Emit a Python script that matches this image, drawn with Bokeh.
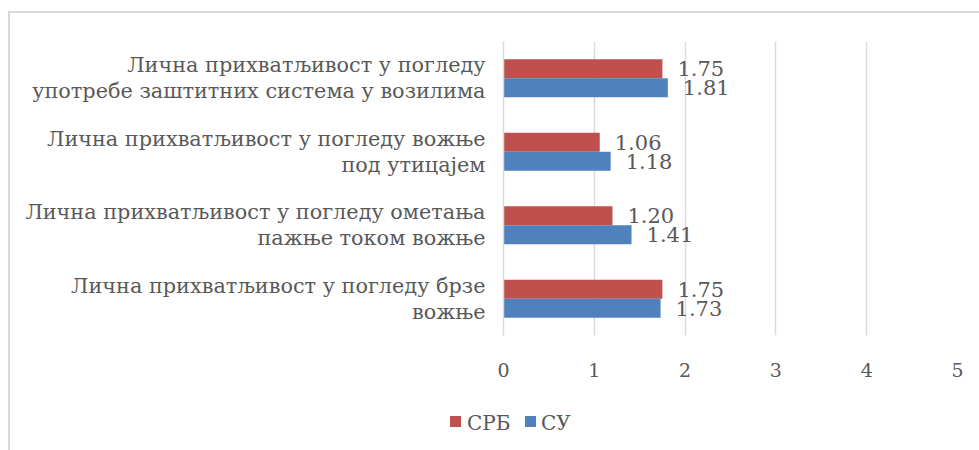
from bokeh.plotting import figure
from bokeh.layouts import column
from bokeh.models import ColumnDataSource, FactorRange, Range1d, Div
from bokeh.transform import dodge
from bokeh.core.properties import value
from bokeh.embed import file_html
from bokeh.resources import INLINE

categories = [
    "Лична прихватљивост у погледу\nупотребе заштитних система у возилима",
    "Лична прихватљивост у погледу вожње\nпод утицајем",
    "Лична прихватљивост у погледу ометања\nпажње током вожње",
    "Лична прихватљивост у погледу брзе\nвожње",
]
srb = [1.75, 1.06, 1.20, 1.75]
su = [1.81, 1.18, 1.41, 1.73]
series_names = ["СРБ", "СУ"]
x_ticks = [0, 1, 2, 3, 4, 5]

RED = "#C0504D"
BLUE = "#4F81BD"
TXT = "#595959"
GRID = "#d9d9d9"
FONT = "DejaVu Serif"

src = ColumnDataSource(dict(
    cat=categories, srb=srb, su=su,
    srb_lbl=["%.2f" % v for v in srb],
    su_lbl=["%.2f" % v for v in su],
))

W = 967
p = figure(width=W, height=367, output_backend="svg", toolbar_location=None,
           y_range=FactorRange(*list(reversed(categories)), range_padding=0),
           x_range=Range1d(0, 5),
           min_border_left=493, min_border_right=20, min_border_top=28, min_border_bottom=45)
p.outline_line_color = None

bw = 0.26
r1 = p.hbar(y=dodge("cat", bw / 2, range=p.y_range), right="srb", left=0, height=bw,
            source=src, fill_color=RED, line_color=None)
r2 = p.hbar(y=dodge("cat", -bw / 2, range=p.y_range), right="su", left=0, height=bw,
            source=src, fill_color=BLUE, line_color=None)

p.text(x="srb", y=dodge("cat", bw / 2, range=p.y_range), text="srb_lbl", source=src,
       x_offset=15, text_baseline="middle", text_align="left",
       text_font=value(FONT), text_font_size="21px", text_color=TXT)
p.text(x="su", y=dodge("cat", -bw / 2, range=p.y_range), text="su_lbl", source=src,
       x_offset=15, text_baseline="middle", text_align="left",
       text_font=value(FONT), text_font_size="21px", text_color=TXT)

p.xaxis.ticker = x_ticks
p.xaxis.axis_line_color = None
p.xaxis.major_tick_line_color = None
p.xaxis.minor_tick_line_color = None
p.xaxis.major_tick_out = 0
p.xaxis.major_label_standoff = 27
p.xaxis.major_label_text_font = FONT
p.xaxis.major_label_text_font_size = "19px"
p.xaxis.major_label_text_color = TXT

p.yaxis.axis_line_color = GRID
p.yaxis.axis_line_width = 1.5
p.yaxis.major_tick_line_color = None
p.yaxis.minor_tick_line_color = None
p.yaxis.major_tick_out = 0
p.yaxis.major_label_standoff = 18
p.yaxis.major_label_text_font = FONT
p.yaxis.major_label_text_font_size = "20.8px"
p.yaxis.major_label_text_color = TXT
p.yaxis.major_label_text_align = "center"
p.yaxis.major_label_text_line_height = 1.1

p.xgrid.grid_line_color = GRID
p.xgrid.grid_line_width = 1.5
p.ygrid.grid_line_color = None

# legend strip (HTML)
def sq(left, color):
    return ('<span style="position:absolute;left:%dpx;top:31px;width:11px;height:11px;'
            'background:%s"></span>' % (left, color))

def lbl(left, text):
    return ('<span style="position:absolute;left:%dpx;top:27px;line-height:22px;'
            'font-family:\'DejaVu Serif\';font-size:20px;color:%s">%s</span>' % (left, TXT, text))

legend_html = ('<div style="position:relative;width:%dpx;height:66px">' % W
               + sq(435, RED) + lbl(452, series_names[0])
               + sq(510, BLUE) + lbl(526, series_names[1]) + '</div>')
q = Div(text=legend_html, width=W, height=66)

layout = column(p, q, spacing=0,
                styles={"border-left": "2px solid #d9d9d9", "border-top": "2px solid #d9d9d9",
                        "margin-top": "11px", "margin-left": "8px"})

open("out.html", "w").write(file_html(layout, INLINE))
